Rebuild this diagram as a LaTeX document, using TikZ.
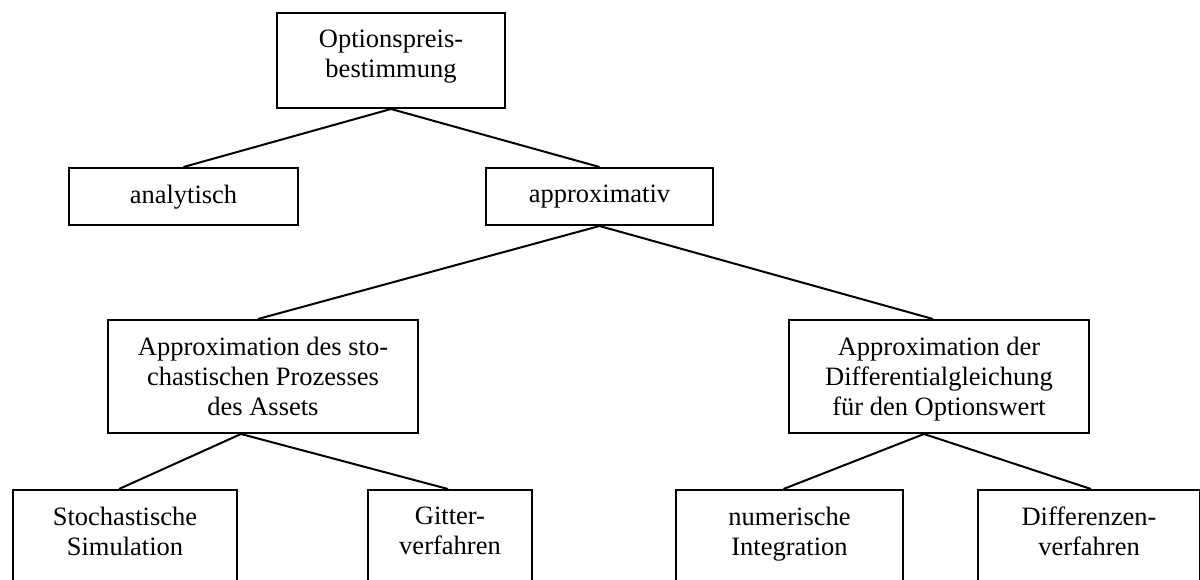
\documentclass[tikz,border=0pt]{standalone}
\usepackage{fontspec}
\setmainfont{Liberation Serif}
\begin{document}
\begin{tikzpicture}[x=1pt,y=-1pt,
  box/.style={draw, line width=2pt, rectangle, inner sep=0pt, anchor=north west},
  txt/.style={anchor=north, yshift=-17.5pt, align=center, inner sep=0pt, font=\fontsize{26.5}{30}\selectfont},
  conn/.style={line width=2pt}]
\useasboundingbox (0,0) rectangle (1200,580);
\clip (0,0) rectangle (1200,580);
% row 1
\node[box, minimum width=228pt, minimum height=95pt, label={[txt]north:Optionspreis-\\bestimmung}] (top) at (276,12) {};
% row 2
\node[box, minimum width=229pt, minimum height=57pt, label={[txt]north:analytisch}] (ana) at (68,167) {};
\node[box, minimum width=227pt, minimum height=57pt, label={[txt]north:approximativ}] (app) at (485,167) {};
% row 3
\node[box, minimum width=310pt, minimum height=113pt, label={[txt]north:Approximation des sto-\\chastischen Prozesses\\des Assets}] (sto) at (107,319) {};
\node[box, minimum width=300pt, minimum height=113pt, label={[txt]north:Approximation der\\Differentialgleichung\\für den Optionswert}] (dgl) at (788,319) {};
% row 4
\node[box, minimum width=224pt, minimum height=100pt, label={[txt]north:Stochastische\\Simulation}] (sim) at (12,489) {};
\node[box, minimum width=164pt, minimum height=100pt, label={[txt]north:Gitter-\\verfahren}] (git) at (367,489) {};
\node[box, minimum width=227pt, minimum height=100pt, label={[txt]north:numerische\\Integration}] (num) at (675,489) {};
\node[box, minimum width=222pt, minimum height=100pt, label={[txt]north:Differenzen-\\verfahren}] (dif) at (977,489) {};
% connectors
\draw[conn] (top.south) -- (ana.north);
\draw[conn] (top.south) -- (app.north);
\draw[conn] (app.south) -- ([xshift=-5pt]sto.north);
\draw[conn] (app.south) -- ([xshift=-6pt]dgl.north);
\draw[conn] ([xshift=-22pt]sto.south) -- ([xshift=-6pt]sim.north);
\draw[conn] ([xshift=-22pt]sto.south) -- ([xshift=-2pt]git.north);
\draw[conn] ([xshift=-15pt]dgl.south) -- ([xshift=-6pt]num.north);
\draw[conn] ([xshift=-15pt]dgl.south) -- ([xshift=2pt]dif.north);
\end{tikzpicture}
\end{document}
